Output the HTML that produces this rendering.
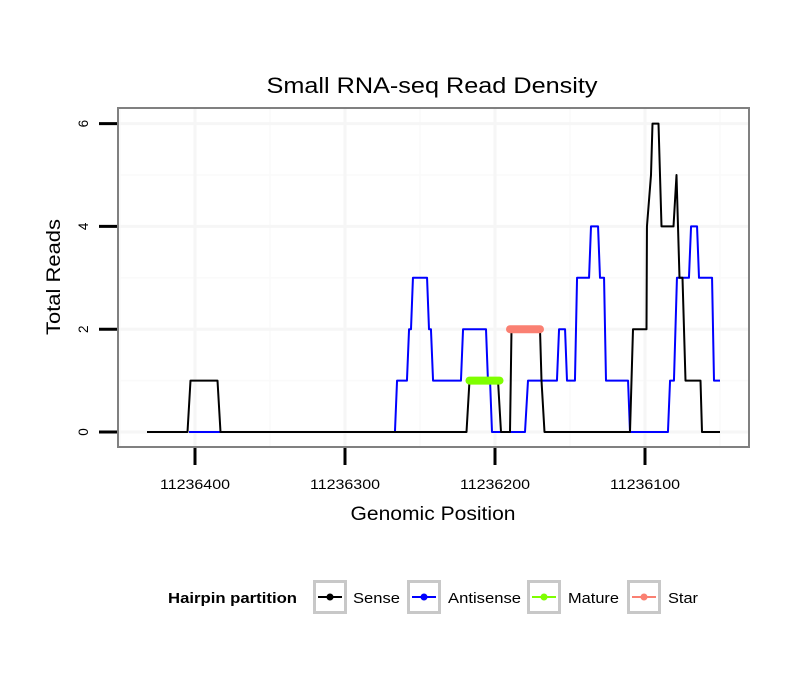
<!DOCTYPE html>
<html><head><meta charset="utf-8"><style>
html,body{margin:0;padding:0;background:#fff;}
svg{display:block;font-family:"Liberation Sans",sans-serif;}
</style></head><body>
<svg id="chart" width="810" height="690" viewBox="0 0 810 690">
<rect width="810" height="690" fill="#fff"/>
<text x="432" y="93" font-size="22" text-anchor="middle" textLength="331" lengthAdjust="spacingAndGlyphs">Small RNA-seq Read Density</text>
<g id="grid"></g>
<g id="series"></g>
<rect x="118" y="108" width="631" height="339" fill="none" stroke="#808080" stroke-width="2"/>
<g id="axes"></g>
<text x="433" y="520" font-size="19" text-anchor="middle" textLength="165" lengthAdjust="spacingAndGlyphs">Genomic Position</text>
<text transform="translate(60,277) rotate(-90)" font-size="19" text-anchor="middle" textLength="116" lengthAdjust="spacingAndGlyphs">Total Reads</text>
<g>
<text x="168" y="603" font-size="14.5" font-weight="bold" textLength="129" lengthAdjust="spacingAndGlyphs">Hairpin partition</text>
<g id="legend"></g>
</g>
</svg>
<script>
const xTicks=[11236400,11236300,11236200,11236100];
const yTicks=[0,2,4,6];
const senseX=[11236432,11236405,11236403,11236385,11236383,11236219,11236217,11236198,11236196,11236190,11236189,11236170,11236169,11236167,11236110,11236108,11236099,11236098.7,11236096,11236095,11236091,11236089,11236081,11236079,11236077,11236075,11236073,11236063,11236062,11236050];
const senseY=[0,0,1,1,0,0,1,1,0,0,2,2,1,0,0,2,2,4,5,6,6,4,4,5,3,3,1,1,0,0];
const antiX=[11236404,11236266.7,11236265.3,11236258.7,11236257.3,11236256,11236254.7,11236245.3,11236244,11236242.7,11236241.3,11236222.7,11236221.3,11236206,11236204.7,11236203.3,11236202,11236180,11236178,11236158.7,11236157.3,11236153.3,11236152,11236146.7,11236145.3,11236137.3,11236136,11236131.3,11236130,11236127.3,11236126,11236111.3,11236110,11236084.7,11236083.3,11236080.7,11236078.7,11236070.7,11236069.3,11236065.3,11236064,11236055.3,11236054,11236050];
const antiY=[0,0,1,1,2,2,3,3,2,2,1,1,2,2,1,1,0,0,1,1,2,2,1,1,3,3,4,4,3,3,1,1,0,0,1,1,3,3,4,4,3,3,1,1];
const matureX=[11236217,11236197];const matureY=[1,1];
const starX=[11236190,11236170];const starY=[2,2];
const legendLabels=["Sense","Antisense","Mature","Star"];
const legendColors=["#000000","#0000ff","#7fff00","#fa8072"];

const NS="http://www.w3.org/2000/svg";
function sx(v){return 195+(11236400-v)*1.5;}
function sy(v){return 432-v*51.4;}
function mk(tag,attrs,parent){const e=document.createElementNS(NS,tag);for(const k in attrs)e.setAttribute(k,attrs[k]);parent.appendChild(e);return e;}
const grid=document.getElementById('grid'),axes=document.getElementById('axes'),series=document.getElementById('series'),legend=document.getElementById('legend');
for(let i=0;i<xTicks.length+1;i++){const v=xTicks[0]+50-i*100;const x=sx(v);if(x>118&&x<749){const l=mk('line',{x1:x,x2:x,y1:109,y2:446,stroke:'#fafafa','stroke-width':1.5},grid);}}
for(let v=1;v<7;v+=2){const l=mk('line',{x1:119,x2:748,y1:sy(v),y2:sy(v),stroke:'#fafafa','stroke-width':1.5},grid);}
xTicks.forEach(v=>{const x=sx(v);
const g=mk('line',{x1:x,x2:x,y1:109,y2:446,stroke:'#f6f6f6','stroke-width':3},grid);
const t=mk('line',{x1:x,x2:x,y1:448,y2:465,stroke:'#000','stroke-width':3},axes);
const tx=mk('text',{x:x,y:489,'font-size':13.5,'text-anchor':'middle',textLength:70,lengthAdjust:'spacingAndGlyphs'},axes);tx.textContent=v;});
yTicks.forEach(v=>{const y=sy(v);
const g=mk('line',{x1:119,x2:748,y1:y,y2:y,stroke:'#f6f6f6','stroke-width':3},grid);
const t=mk('line',{x1:99,x2:117,y1:y,y2:y,stroke:'#000','stroke-width':3},axes);
const tx=mk('text',{transform:`translate(88,${y}) rotate(-90)`,'font-size':13.5,'text-anchor':'middle'},axes);tx.textContent=v;});
function line(xs,ys,color,w,name,cap){const p=mk('polyline',{points:xs.map((x,i)=>sx(x)+','+sy(ys[i])).join(' '),fill:'none',stroke:color,'stroke-width':w,'stroke-linejoin':'round','stroke-linecap':cap||'butt'},series);}
line(antiX,antiY,'#0000ff',2,'antisense-line');
line(senseX,senseY,'#000000',2,'sense-line');
line(matureX,matureY,'#7fff00',8,'mature-bar','round');
line(starX,starY,'#fa8072',8,'star-bar','round');
const boxX=[313,407,527,627],textX=[353,448,568,668],textW=[47,73,51,30];
legendLabels.forEach((lab,i)=>{
const b=mk('rect',{x:boxX[i]+1.5,y:581.5,width:31,height:31,fill:'#fff',stroke:'#c8c8c8','stroke-width':3},legend);
const l=mk('line',{x1:boxX[i]+5,x2:boxX[i]+29,y1:597,y2:597,stroke:legendColors[i],'stroke-width':2},legend);
const c=mk('circle',{cx:boxX[i]+17,cy:597,r:3.5,fill:legendColors[i]},legend);
const t=mk('text',{x:textX[i],y:603,'font-size':15,textLength:textW[i],lengthAdjust:'spacingAndGlyphs'},legend);t.textContent=lab;});
</script>
</body></html>
